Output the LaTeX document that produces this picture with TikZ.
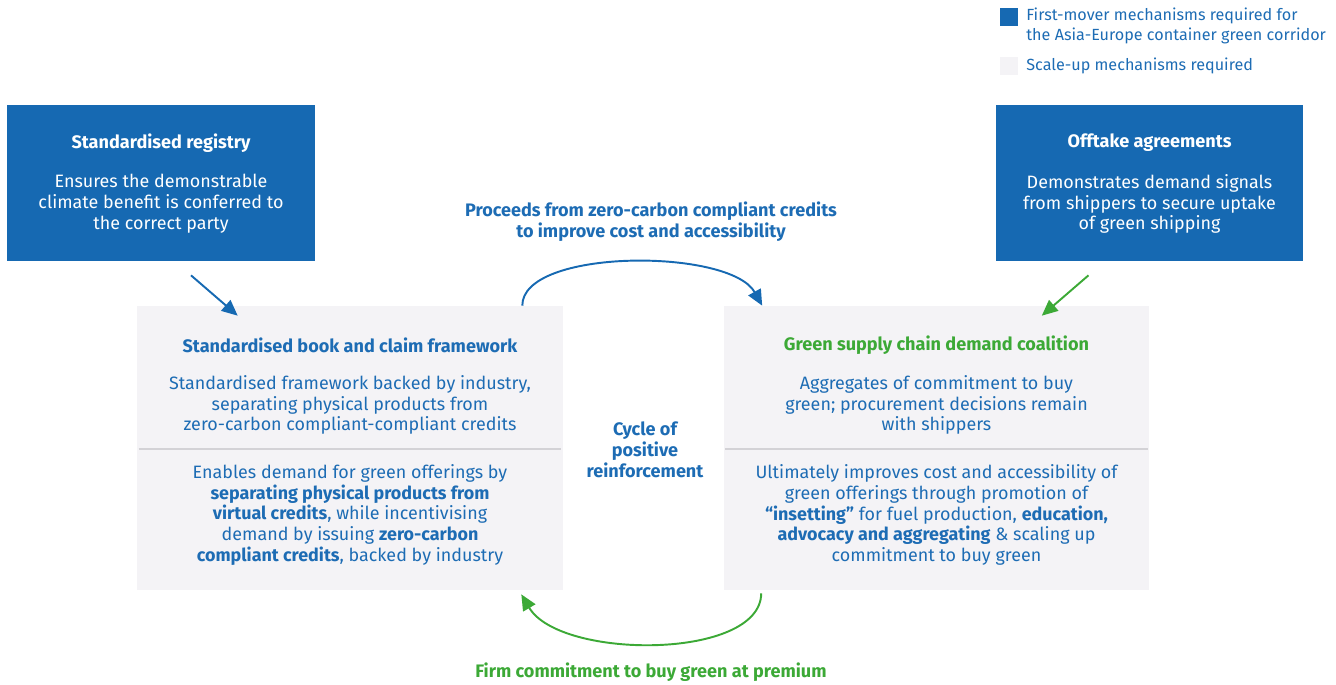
\documentclass[tikz,border=0pt]{standalone}
\usepackage{fontspec}
\setmainfont{Fira Sans}
\usetikzlibrary{arrows.meta,positioning,calc}
\definecolor{firstblue}{HTML}{1669B2}
\definecolor{textblue}{HTML}{1D6CB4}
\definecolor{greenline}{HTML}{3CA936}
\definecolor{scalegrey}{HTML}{F4F3F6}
\definecolor{divider}{HTML}{D3D2D6}

\begin{document}
\begin{tikzpicture}[
    x=0.02cm, y=-0.02cm,
    firstmover/.style={fill=firstblue, minimum width=6.16cm, minimum height=3.12cm,
                       inner sep=0pt},
    scaleup/.style={fill=scalegrey, minimum width=8.52cm, minimum height=5.68cm,
                    inner sep=0pt},
    txt/.style={align=center, inner sep=0pt, text=textblue,
                font=\fontsize{10.2}{11.9}\selectfont},
    head/.style={txt, font=\fontsize{10.3}{11.9}\selectfont\bfseries},
    key/.style={minimum size=0.36cm, inner sep=0pt},
    keytext/.style={txt, align=left, anchor=west, font=\fontsize{9.2}{11.4}\selectfont},
    bluearrow/.style={-{Triangle[length=9pt, width=8pt]}, line width=1.1pt, color=firstblue},
    greenarrow/.style={-{Triangle[length=9pt, width=8pt]}, line width=1.1pt, color=greenline},
]
    \useasboundingbox (0,0) rectangle (1336,685);

    % legend
    \node[key, fill=firstblue]  (keyfirst) at (1009,17) {};
    \node[keytext] (keyfirsttext) at (1026,26)
        {First-mover mechanisms required for\\the Asia-Europe container green corridor};
    \node[key, fill=scalegrey]  (keyscale) at (1009,66) {};
    \node[keytext] (keyscaletext) at (1026,66) {Scale-up mechanisms required};

    % first-mover boxes
    \node[firstmover] (reg) at (161,183) {};
    \node[head, text=white] (regtitle) at (161,143) {Standardised registry};
    \node[txt, text=white]  (regbody)  at (161,204)
        {Ensures the demonstrable\\climate benefit is conferred to\\the correct party};

    \node[firstmover] (offtake) at (1149.5,183) {};
    \node[head, text=white] (offtaketitle) at (1149.5,143) {Offtake agreements};
    \node[txt, text=white]  (offtakebody)  at (1149.5,204)
        {Demonstrates demand signals\\from shippers to secure uptake\\of green shipping};

    % scale-up boxes
    \node[scaleup] (book) at (350,448) {};
    \node[head] (booktitle) at (350,345) {Standardised book and claim framework};
    \node[txt]  (bookbody)  at (350,405)
        {Standardised framework backed by industry,\\separating physical products from\\zero-carbon compliant-compliant credits};
    \draw[divider, line width=1pt] ($(book.west)+(2,1)$) -- ($(book.east)+(-2,1)$);
    \node[txt]  (bookmore)  at (350,515)
        {Enables demand for green offerings by\\\textbf{separating physical products from}\\\textbf{virtual credits}, while incentivising\\demand by issuing \textbf{zero-carbon}\\\textbf{compliant credits}, backed by industry};

    \node[scaleup] (coalition) at (936.5,448) {};
    \node[head, text=greenline] (coaltitle) at (936.5,345) {Green supply chain demand coalition};
    \node[txt]  (coalbody)  at (936.5,405)
        {Aggregates of commitment to buy\\green; procurement decisions remain\\with shippers};
    \draw[divider, line width=1pt] ($(coalition.west)+(2,1)$) -- ($(coalition.east)+(-2,1)$);
    \node[txt]  (coalmore)  at (936.5,515)
        {Ultimately improves cost and accessibility of\\green offerings through promotion of\\\textbf{“insetting”} for fuel production, \textbf{education,}\\\textbf{advocacy and aggregating} \& scaling up\\commitment to buy green};

    % cycle labels
    \node[head] (cycle)    at (645,450) {Cycle of\\positive\\reinforcement};
    \node[head] (proceeds) at (651,222)
        {Proceeds from zero-carbon compliant credits\\to improve cost and accessibility};
    \node[head, text=greenline] (firm) at (651,672) {Firm commitment to buy green at premium};

    % connectors
    \draw[bluearrow]  ($(reg.south)+(30,14)$) -- ($(book.north west)+(101,10)$);
    \draw[greenarrow] ($(offtake.south)+(-61,14)$) -- ($(coalition.north east)+(-108,10)$);
    \draw[bluearrow]  ($(book.north east)+(-41,0)$) .. controls (522,248) and (730,248)
        .. ($(coalition.north west)+(39,0)$);
    \draw[greenarrow] ($(coalition.south west)+(38,3)$) .. controls (761,660) and (560,660)
        .. ($(book.south east)+(-42,4)$);
\end{tikzpicture}
\end{document}
